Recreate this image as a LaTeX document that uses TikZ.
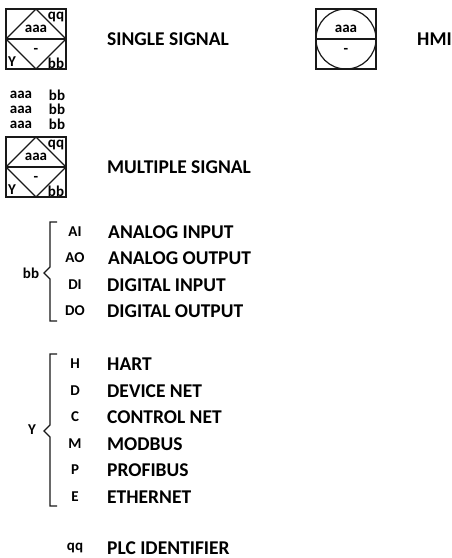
\documentclass[tikz,border=0pt]{standalone}
\usepackage{fontspec}
\setmainfont{Carlito}
\usepackage{tikz}
\usetikzlibrary{positioning}
\tikzset{
  tag/.style={font=\fontsize{15}{16}\selectfont\bfseries,inner sep=0pt},
  title/.style={font=\fontsize{19.5}{20}\selectfont\bfseries,inner sep=0pt,anchor=west},
  stroke/.style={line width=1.2pt,black!90}
}
\begin{document}
\begin{tikzpicture}[x=1pt,y=-1pt]
  \useasboundingbox (0,0) rectangle (451,558);
  % single signal
  \draw[stroke] (6,9) rectangle (66,69);
  \draw[stroke] (36,9) -- (66,39) -- (36,69) -- (6,39) -- cycle;
  \draw[stroke] (6,39) -- (66,39);
  \node[tag] (aaaone) at (36,29) {aaa};
  \node[tag] (qqone) at (56,17) {qq};
  \node[tag] (dashone) at (36,51) {-};
  \node[tag] (yone) at (12,62) {Y};
  \node[tag] (bbone) at (56,63) {bb};
  \node[title] (single) at (107,39) {SINGLE SIGNAL};
  % hmi
  \draw[stroke] (316,9) rectangle (376,69);
  \draw[stroke] (346,39) circle (30);
  \draw[stroke] (316,39) -- (376,39);
  \node[tag] (aaahmi) at (346,29) {aaa};
  \node[tag] (dashhmi) at (346,51) {-};
  \node[title] (hmi) at (417,39) {HMI};
  % multiple signal
  \node[tag] (aaaa) at (21,95) {aaa};
  \node[tag] (aaab) at (21,110) {aaa};
  \node[tag] (aaac) at (21,125) {aaa};
  \node[tag] (bba) at (57,95) {bb};
  \node[tag] (bbb) at (57,109) {bb};
  \node[tag] (bbc) at (57,124) {bb};
  \draw[stroke] (6,137) rectangle (66,197);
  \draw[stroke] (36,137) -- (66,167) -- (36,197) -- (6,167) -- cycle;
  \draw[stroke] (6,167) -- (66,167);
  \node[tag] (aaatwo) at (36,157) {aaa};
  \node[tag] (qqtwo) at (56,145) {qq};
  \node[tag] (dashtwo) at (36,179) {-};
  \node[tag] (ytwo) at (12,190) {Y};
  \node[tag] (bbtwo) at (56,191) {bb};
  \node[title] (multiple) at (107,167) {MULTIPLE SIGNAL};
  % bb list
  \draw[stroke] (57,222) -- (50,222) -- (50,267) -- (44,273) -- (50,279) -- (50,321) -- (57,321);
  \node[tag] (bblist) at (31,273) {bb};
  \node[tag] (ai) at (75,232) {AI};
  \node[tag] (ao) at (75,258) {AO};
  \node[tag] (di) at (75,285) {DI};
  \node[tag] (do) at (75,311) {DO};
  \node[title] (ainame) at (108,232) {ANALOG INPUT};
  \node[title] (aoname) at (108,258) {ANALOG OUTPUT};
  \node[title] (diname) at (107,285) {DIGITAL INPUT};
  \node[title] (doname) at (107,311) {DIGITAL OUTPUT};
  % y list
  \draw[stroke] (57,354) -- (50,354) -- (50,425) -- (44,431) -- (50,437) -- (50,506) -- (57,506);
  \node[tag] (ylist) at (32,430) {Y};
  \node[tag] (h) at (75,364) {H};
  \node[tag] (d) at (75,391) {D};
  \node[tag] (c) at (75,417) {C};
  \node[tag] (m) at (75,444) {M};
  \node[tag] (p) at (75,470) {P};
  \node[tag] (e) at (75,497) {E};
  \node[title] (hname) at (107,364) {HART};
  \node[title] (dname) at (107,391) {DEVICE NET};
  \node[title] (cname) at (107,417) {CONTROL NET};
  \node[title] (mname) at (107,444) {MODBUS};
  \node[title] (pname) at (107,470) {PROFIBUS};
  \node[title] (ename) at (107,497) {ETHERNET};
  % plc
  \node[tag] (qq) at (75,548) {qq};
  \node[title] (qqname) at (107,548) {PLC IDENTIFIER};
\end{tikzpicture}
\end{document}
